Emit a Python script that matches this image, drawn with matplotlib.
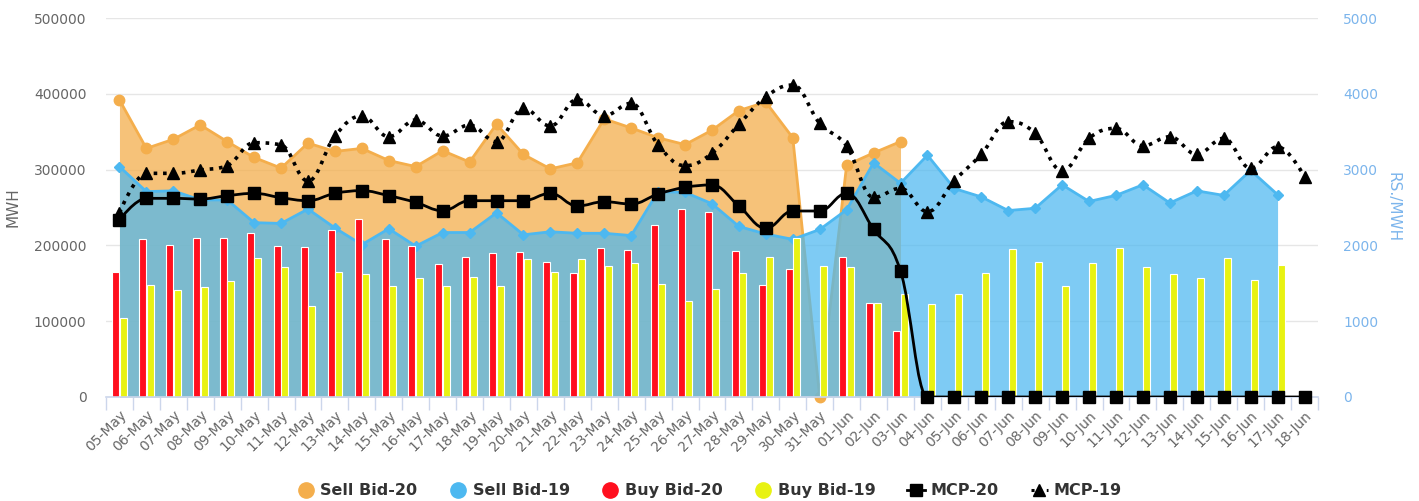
import numpy as np
import matplotlib
matplotlib.use("Agg")
import matplotlib.pyplot as plt
from matplotlib.path import Path
from matplotlib.patches import PathPatch
from matplotlib.lines import Line2D

nan = np.nan

dates = ["05-May", "06-May", "07-May", "08-May", "09-May", "10-May", "11-May", "12-May",
         "13-May", "14-May", "15-May", "16-May", "17-May", "18-May", "19-May", "20-May",
         "21-May", "22-May", "23-May", "24-May", "25-May", "26-May", "27-May", "28-May",
         "29-May", "30-May", "31-May", "01-Jun", "02-Jun", "03-Jun", "04-Jun", "05-Jun",
         "06-Jun", "07-Jun", "08-Jun", "09-Jun", "10-Jun", "11-Jun", "12-Jun", "13-Jun",
         "14-Jun", "15-Jun", "16-Jun", "17-Jun", "18-Jun"]

sell_bid_20 = [392000, 328000, 340000, 359000, 337000, 316000, 302000, 335000, 324000, 328000,
               312000, 304000, 325000, 310000, 360000, 320000, 301000, 309000, 367000, 355000,
               342000, 333000, 352000, 378000, 389000, 342000, 0, 306000, 322000, 337000]

sell_bid_19 = [304000, 271000, 272000, 260000, 260000, 230000, 229000, 248000, 223000, 201000,
               222000, 199000, 217000, 217000, 243000, 214000, 218000, 216000, 216000, 213000,
               271000, 270000, 255000, 225000, 215000, 208000, 221000, 247000, 309000, 282000,
               319000, 275000, 264000, 246000, 249000, 280000, 258000, 266000, 280000, 256000,
               272000, 266000, 299000, 267000]

buy_bid_20 = [164500, 208000, 200500, 209300, 209300, 216000, 199200, 197500, 220300, 234800,
              208000, 199200, 175000, 185100, 190400, 191700, 178500, 163200, 196200, 193900,
              226500, 247600, 244500, 192600, 147800, 168500, nan, 185100, 123600, 87100]

buy_bid_19 = [104600, 147800, 141200, 144700, 153000, 183800, 171900, 120500, 165300, 161900,
              146400, 156600, 146400, 158700, 146400, 182100, 165300, 182100, 173200, 177200,
              149100, 127100, 142500, 163200, 185100, 209300, 173200, 171900, 123600, 135900,
              122300, 135900, 163200, 194900, 178500, 146400, 177200, 196200, 171900, 161900,
              156600, 183800, 154400, 174200]

mcp_20 = [2335, 2621, 2621, 2612, 2656, 2687, 2630, 2590, 2687, 2722,
          2656, 2568, 2458, 2590, 2590, 2590, 2687, 2520, 2577, 2546,
          2678, 2766, 2797, 2520, 2226, 2454, 2454, 2687, 2212, 1662,
          0, 0, 0, 0, 0, 0, 0, 0, 0, 0, 0, 0, 0, 0, 0]

mcp_19 = [2430, 2951, 2951, 2995, 3052, 3355, 3325, 2850, 3443, 3707,
          3434, 3654, 3443, 3588, 3368, 3808, 3575, 3927, 3711, 3875,
          3325, 3052, 3215, 3597, 3962, 4116, 3611, 3311, 2634, 2753,
          2445, 2854, 3202, 3632, 3479, 2986, 3413, 3545, 3315, 3434,
          3202, 3413, 3017, 3302, 2906]

ORANGE = "#F4AE4C"
BLUE = "#4DB8F0"
RED = "#FF0F1E"
YELLOW = "#E8F212"
GRID = "#E6E6E6"
AXIS = "#CCD6EB"
TXT = "#666666"
RBLUE = "#7CB5EC"


def spline_path(xs, ys, smoothing=1.5):
    """Highcharts-like spline through points, as bezier Path."""
    n = len(xs)
    denom = smoothing + 1
    lc = [(xs[i], ys[i]) for i in range(n)]
    rc = [(xs[i], ys[i]) for i in range(n)]
    for i in range(1, n - 1):
        px, py = xs[i], ys[i]
        lx0, ly0 = xs[i - 1], ys[i - 1]
        nx, ny = xs[i + 1], ys[i + 1]
        lcx = (smoothing * px + lx0) / denom
        lcy = (smoothing * py + ly0) / denom
        rcx = (smoothing * px + nx) / denom
        rcy = (smoothing * py + ny) / denom
        if rcx != lcx:
            corr = ((rcy - lcy) * (rcx - px)) / (rcx - lcx) + py - rcy
            lcy += corr
            rcy += corr
        if lcy > ly0 and lcy > py:
            lcy = max(ly0, py)
            rcy = 2 * py - lcy
        elif lcy < ly0 and lcy < py:
            lcy = min(ly0, py)
            rcy = 2 * py - lcy
        if rcy > ny and rcy > py:
            rcy = max(ny, py)
            lcy = 2 * py - rcy
        elif rcy < ny and rcy < py:
            rcy = min(ny, py)
            lcy = 2 * py - rcy
        lc[i] = (lcx, lcy)
        rc[i] = (rcx, rcy)
    verts = [(xs[0], ys[0])]
    codes = [Path.MOVETO]
    for i in range(1, n):
        verts += [rc[i - 1], lc[i], (xs[i], ys[i])]
        codes += [Path.CURVE4] * 3
    return Path(verts, codes)


fig = plt.figure(figsize=(14.19, 5.01), dpi=100)
ax = fig.add_axes([0.0747, 0.2076, 0.8541, 0.7564])
ax2 = ax.twinx()

x = np.arange(len(dates))
x20 = x[:len(sell_bid_20)]
x19 = x[:len(sell_bid_19)]

# grid
for v in range(0, 500001, 100000):
    ax.axhline(v, color=GRID, lw=1, zorder=0)

# Areas
ax.fill_between(x20, 0, sell_bid_20, color=ORANGE, alpha=0.75, lw=0, zorder=1)
ax.plot(x20, sell_bid_20, color=ORANGE, lw=2, marker="o", ms=7.5, zorder=2, clip_on=False)
ax.fill_between(x19, 0, sell_bid_19, color=BLUE, alpha=0.72, lw=0, zorder=3)
ax.plot(x19, sell_bid_19, color=BLUE, lw=2, marker="D", ms=5.5, zorder=4)

# Bars
bw = 0.26
ax.bar(x20 - 0.14, buy_bid_20, width=bw, color=RED, edgecolor="white", lw=0.8, zorder=5)
ax.bar(x19 + 0.14, buy_bid_19, width=bw, color=YELLOW, edgecolor="white", lw=0.8, zorder=5)

ax.set_xlim(-0.5, len(dates) - 0.5)
ax.set_ylim(0, 500000)
ax2.set_ylim(0, 5000)

# MCP lines (secondary axis)
p20 = spline_path(list(x), list(mcp_20))
ax2.add_patch(PathPatch(p20, fill=False, edgecolor="black", lw=2, zorder=6))
ax2.plot(x, mcp_20, ls="none", marker="s", ms=8.5, color="black", zorder=7, clip_on=False)
p19 = spline_path(list(x), list(mcp_19))
ax2.add_patch(PathPatch(p19, fill=False, edgecolor="black", lw=2.6, linestyle=(0, (1, 1.6)), zorder=6))
ax2.plot(x, mcp_19, ls="none", marker="^", ms=8.5, color="black", zorder=7)

# axes styling
ax.set_zorder(1)
ax2.set_zorder(2)
ax2.patch.set_visible(False)
for a in (ax, ax2):
    for s in ("top", "left", "right", "bottom"):
        a.spines[s].set_visible(False)
ax.axhline(0, color=AXIS, lw=1.2, zorder=8, clip_on=False)

ax.set_yticks(range(0, 500001, 100000))
ax.set_yticklabels([str(v) for v in range(0, 500001, 100000)])
ax.tick_params(axis="y", length=0, labelsize=10, labelcolor=TXT, pad=14)
ax2.set_yticks(range(0, 5001, 1000))
ax2.tick_params(axis="y", length=0, labelsize=10, labelcolor=RBLUE, pad=18)

ax.set_xticks(x)
ax.set_xticklabels(dates, rotation=45, ha="right", rotation_mode="anchor")
ax.tick_params(axis="x", length=0, labelsize=10, labelcolor=TXT, pad=8)
ax.set_xticks(np.arange(-0.5, len(dates), 1.0), minor=True)
ax.tick_params(axis="x", which="minor", length=9, color=AXIS, width=1)

ax.set_ylabel("MWH", color=TXT, fontsize=11, labelpad=10)
ax2.set_ylabel("RS./MWH", color=RBLUE, fontsize=11, rotation=270, labelpad=16)

# Legend
handles = [
    Line2D([], [], ls="none", marker="o", ms=11, color=ORANGE),
    Line2D([], [], ls="none", marker="o", ms=11, color=BLUE),
    Line2D([], [], ls="none", marker="o", ms=11, color=RED),
    Line2D([], [], ls="none", marker="o", ms=11, color=YELLOW),
    Line2D([], [], color="black", lw=2, marker="s", ms=8),
    Line2D([], [], color="black", lw=2.2, ls=(0, (1, 1.5)), marker="^", ms=8),
]
labels = ["Sell Bid-20", "Sell Bid-19", "Buy Bid-20", "Buy Bid-19", "MCP-20", "MCP-19"]
leg = fig.legend(handles, labels, loc="center", bbox_to_anchor=(0.5, 0.02), ncol=6,
                 frameon=False, handlelength=1.1, handletextpad=0.35, columnspacing=2.0,
                 prop={"weight": "bold", "size": 11.5})
for t in leg.get_texts():
    t.set_color("#333333")

fig.savefig("out.png", dpi=100)
